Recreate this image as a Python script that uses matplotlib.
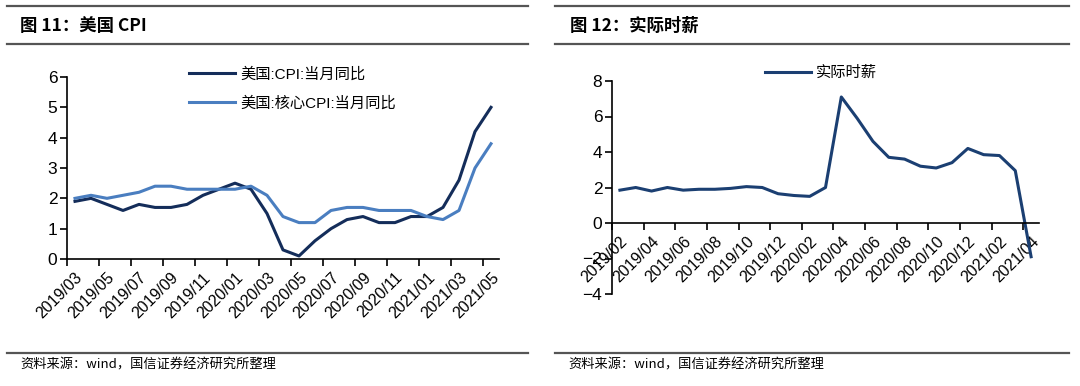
import matplotlib
matplotlib.use('Agg')
import matplotlib.pyplot as plt
from matplotlib.lines import Line2D
import numpy as np

plt.rcParams['font.family'] = ['Liberation Sans', 'Noto Sans CJK SC', 'DejaVu Sans']

# 图11 数据
cpi_months = ['2019/03', '2019/04', '2019/05', '2019/06', '2019/07', '2019/08', '2019/09',
              '2019/10', '2019/11', '2019/12', '2020/01', '2020/02', '2020/03', '2020/04',
              '2020/05', '2020/06', '2020/07', '2020/08', '2020/09', '2020/10', '2020/11',
              '2020/12', '2021/01', '2021/02', '2021/03', '2021/04', '2021/05']
cpi_yoy = [1.9, 2.0, 1.8, 1.6, 1.8, 1.7, 1.7, 1.8, 2.1, 2.3, 2.5, 2.3, 1.5, 0.3,
           0.1, 0.6, 1.0, 1.3, 1.4, 1.2, 1.2, 1.4, 1.4, 1.7, 2.6, 4.2, 5.0]
core_cpi_yoy = [2.0, 2.1, 2.0, 2.1, 2.2, 2.4, 2.4, 2.3, 2.3, 2.3, 2.3, 2.4, 2.1, 1.4,
                1.2, 1.2, 1.6, 1.7, 1.7, 1.6, 1.6, 1.6, 1.4, 1.3, 1.6, 3.0, 3.8]

# 图12 数据
wage_months = ['2019/02', '2019/03', '2019/04', '2019/05', '2019/06', '2019/07', '2019/08',
               '2019/09', '2019/10', '2019/11', '2019/12', '2020/01', '2020/02', '2020/03',
               '2020/04', '2020/05', '2020/06', '2020/07', '2020/08', '2020/09', '2020/10',
               '2020/11', '2020/12', '2021/01', '2021/02', '2021/03', '2021/04']
real_wage = [1.85, 2.0, 1.8, 2.0, 1.85, 1.9, 1.9, 1.95, 2.05, 2.0, 1.65, 1.55, 1.5, 2.0,
             7.1, 5.9, 4.6, 3.7, 3.6, 3.2, 3.1, 3.4, 4.2, 3.85, 3.8, 2.95, -1.9]

W, H = 1080, 386
fig = plt.figure(figsize=(W / 100, H / 100), dpi=100)
fig.patch.set_facecolor('white')

def fx(px):
    return px / W

def fy(py):
    return 1 - py / H

# 标题栏与底部横线
rule_color = '#555555'
for x0, x1 in [(7, 528), (555, 1069)]:
    for yy in [6, 44, 353]:
        fig.add_artist(Line2D([fx(x0), fx(x1)], [fy(yy), fy(yy)], color=rule_color, lw=1.6))

fig.text(fx(20), fy(26), '图 11：美国 CPI', fontsize=12.5, fontweight='bold',
         family=['Noto Sans CJK SC'], va='center')
fig.text(fx(570), fy(26), '图 12：实际时薪', fontsize=12.5, fontweight='bold',
         family=['Noto Sans CJK SC'], va='center')
for x0 in [20, 568]:
    fig.text(fx(x0), fy(365), '资料来源：wind，国信证券经济研究所整理', fontsize=9.5,
             family=['Noto Sans CJK SC'], va='center')

dark = '#142D5A'
light = '#4A7EC0'
wage_color = '#1B3F72'


def style_cat_axis(ax, labels, n):
    for s in ['top', 'right']:
        ax.spines[s].set_visible(False)
    for s in ['left', 'bottom']:
        ax.spines[s].set_linewidth(1.2)
    ax.set_xlim(-0.5, n - 0.5)
    ax.set_xticks(np.arange(-0.5, n - 0.4, 2))
    ax.set_xticklabels([])
    ax.set_xticks(np.arange(0, n, 2), minor=True)
    ax.set_xticklabels(labels[::2], minor=True, rotation=45, ha='right',
                       rotation_mode='anchor', fontsize=11.5)
    ax.tick_params(axis='x', which='minor', length=0, pad=8)
    ax.tick_params(axis='x', which='major', length=5, width=1.2, direction='out')
    ax.tick_params(axis='y', length=5, width=1.2, direction='out', labelsize=12.5, pad=2)


# 左图
ax1 = fig.add_axes([fx(67), fy(259), fx(499) - fx(67), fy(77) - fy(259)])
x1 = np.arange(len(cpi_months))
ax1.plot(x1, cpi_yoy, color=dark, lw=2.2, solid_joinstyle='round', label='美国:CPI:当月同比')
ax1.plot(x1, core_cpi_yoy, color=light, lw=2.2, solid_joinstyle='round', label='美国:核心CPI:当月同比')
ax1.set_ylim(0, 6)
ax1.set_yticks(range(0, 7))
style_cat_axis(ax1, cpi_months, len(cpi_months))
ax1.legend(loc='upper left', bbox_to_anchor=(fx(189), fy(67)), bbox_transform=fig.transFigure,
           frameon=False, fontsize=11, handlelength=3.0, handletextpad=0.35,
           labelspacing=0.95, borderpad=0, borderaxespad=0)

# 右图
ax2 = fig.add_axes([fx(612), fy(294), fx(1039) - fx(612), fy(81) - fy(294)])
x2 = np.arange(len(wage_months))
ax2.plot(x2, real_wage, color=wage_color, lw=2.2, solid_joinstyle='round', label='实际时薪')
ax2.set_ylim(-4, 8)
ax2.set_yticks(range(-4, 9, 2))
ax2.spines['bottom'].set_position(('data', 0))
style_cat_axis(ax2, wage_months, len(wage_months))
ax2.legend(loc='upper left', bbox_to_anchor=(fx(765), fy(66)), bbox_transform=fig.transFigure,
           frameon=False, fontsize=11, handlelength=3.0, handletextpad=0.35,
           borderpad=0, borderaxespad=0)

fig.savefig('out.png', dpi=100)
